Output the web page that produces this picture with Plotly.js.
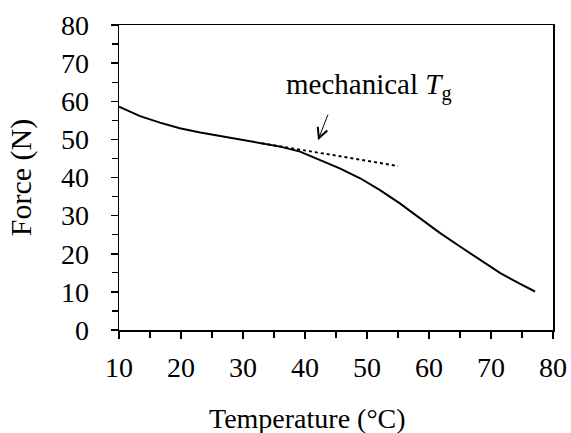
<!DOCTYPE html>
<html>
<head>
<meta charset="utf-8">
<script src="https://cdn.plot.ly/plotly-3.0.1.min.js"></script>
<style>html,body{margin:0;padding:0;background:#fff;}#chart{width:571px;height:433px;}</style>
</head>
<body>
<div id="chart"></div>
<script>
// Force vs temperature curve
const temperature = [10, 13.4, 16.6, 19.8, 23.1, 26.3, 29.5, 32.7, 36.0, 39.2, 42.4, 45.6, 48.9, 52.1, 55.3, 58.5, 61.8, 65.0, 68.2, 71.5, 74.7, 77.1];
const force       = [58.6, 56.1, 54.4, 52.9, 51.8, 50.9, 50.0, 49.1, 48.1, 46.8, 44.6, 42.4, 39.8, 36.7, 33.2, 29.3, 25.4, 21.9, 18.4, 14.9, 12.1, 10.1];
// Dotted extrapolation of the glassy region
const tangentT = [33, 55];
const tangentF = [49.0, 43.0];
// Axis ticks
const xTicks = [10, 20, 30, 40, 50, 60, 70, 80];
const yTicks = [0, 10, 20, 30, 40, 50, 60, 70, 80];
// Annotation anchor (arrow tail -> head) and label position
const arrowTail = [43.8, 56.9];
const arrowHead = [42.1, 49.8];
const labelPos = [50.3, 64.0];

const font = {family: '"Liberation Serif", "Times New Roman", serif', color: '#000'};
const F = s => Object.assign({size: s}, font);

const traces = [
  {x: temperature, y: force, type: 'scatter', mode: 'lines',
   line: {color: '#000', width: 2}, hoverinfo: 'skip'},
  {x: tangentT, y: tangentF, type: 'scatter', mode: 'lines',
   line: {color: '#000', width: 2, dash: 'dot'}, hoverinfo: 'skip'}
];

const axisCommon = {
  showgrid: false, zeroline: false, showline: true, linecolor: '#000', linewidth: 1.5,
  mirror: true, ticks: 'outside', ticklen: 7, tickwidth: 1.5, tickcolor: '#000',
  tickfont: F(28),
  minor: {dtick: 5, ticks: 'outside', ticklen: 6, tickwidth: 1.2, tickcolor: '#000'}
};

const W = 571, H = 433, ML = 119, MR = 18, MT = 25, MB = 103;

const layout = {
  width: W, height: H,
  margin: {l: ML, r: MR, t: MT, b: MB},
  paper_bgcolor: '#fff', plot_bgcolor: '#fff',
  showlegend: false,
  font: F(28),
  xaxis: Object.assign({}, axisCommon, {
    range: [10, 80], tickmode: 'array', tickvals: xTicks, ticktext: xTicks.map(String),
    ticklabelstandoff: 5
  }),
  yaxis: Object.assign({}, axisCommon, {
    range: [0, 80], tickmode: 'array', tickvals: yTicks, ticktext: yTicks.map(String),
    ticklabelstandoff: 16,
    title: {text: 'Force (N)', font: F(30), standoff: 20}
  }),
  annotations: [
    {x: labelPos[0], y: labelPos[1], xref: 'x', yref: 'y', showarrow: false,
     xanchor: 'center', yanchor: 'middle',
     text: 'mechanical <i>T</i><sub>g</sub>', font: F(29)},
    {x: arrowHead[0], y: arrowHead[1], ax: arrowTail[0], ay: arrowTail[1],
     xref: 'x', yref: 'y', axref: 'x', ayref: 'y', text: '', showarrow: true,
     arrowhead: 5, arrowsize: 2, arrowwidth: 1, arrowcolor: '#000'},
    {x: (307 - ML) / (W - ML - MR), y: -(418 - (H - MB)) / (H - MT - MB),
     xref: 'paper', yref: 'paper', showarrow: false, xanchor: 'center', yanchor: 'middle',
     text: 'Temperature (°C)', font: F(28)}
  ]
};

Plotly.newPlot('chart', traces, layout, {displayModeBar: false, staticPlot: true});
</script>
</body>
</html>
